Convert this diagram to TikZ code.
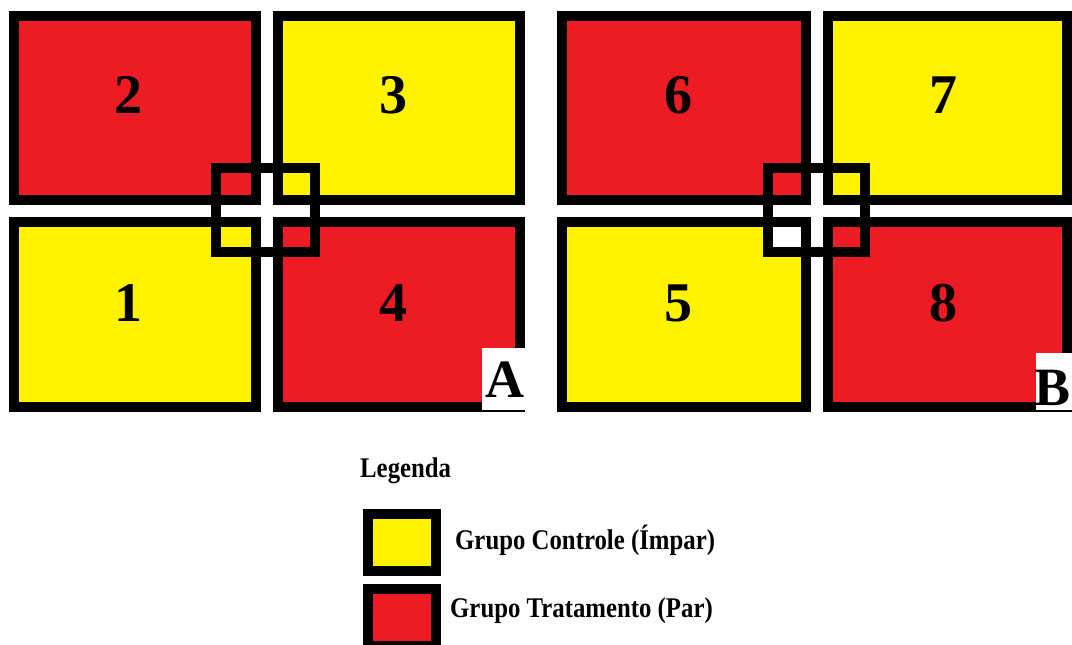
\documentclass[tikz,border=0pt]{standalone}
\usepackage{fontspec}
\setmainfont{Liberation Serif}
\newfontfamily\legfont[FakeStretch=0.87]{Liberation Serif}
\definecolor{pred}{HTML}{ED1C24}
\definecolor{pyel}{HTML}{FFF200}
\tikzset{
  cell/.style={draw=black, line width=10pt, inner sep=0pt, outer sep=0pt},
  num/.style={inner sep=0pt, font=\bfseries\fontsize{56}{56}\selectfont},
  panel/.style={inner sep=0pt, font=\bfseries\fontsize{54}{54}\selectfont},
  frame/.style={draw=black, line width=10pt, inner sep=0pt, outer sep=0pt},
  legtext/.style={inner sep=0pt, anchor=base west, font=\legfont\bfseries\fontsize{28.5}{28.5}\selectfont},
}
\begin{document}
\begin{tikzpicture}[x=1pt,y=-1pt]
\useasboundingbox (0,0) rectangle (1072,645);
\fill[white] (0,0) rectangle (1072,645);
% panel A
\node[cell, fill=pred, minimum width=242pt, minimum height=184pt] (r2) at (135,108) {};
\node[cell, fill=pyel, minimum width=242pt, minimum height=184pt] (r3) at (399,108) {};
\node[cell, fill=pyel, minimum width=242pt, minimum height=185pt] (r1) at (135,314.5) {};
\node[cell, fill=pred, minimum width=242pt, minimum height=185pt] (r4) at (399,314.5) {};
% panel B
\node[cell, fill=pred, minimum width=244pt, minimum height=184pt] (r6) at (684,108) {};
\node[cell, fill=pyel, minimum width=239pt, minimum height=184pt] (r7) at (947.5,108) {};
\node[cell, fill=pyel, minimum width=244pt, minimum height=185pt] (r5) at (684,314.5) {};
\node[cell, fill=pred, minimum width=239pt, minimum height=185pt] (r8) at (947.5,314.5) {};
% numbers
\node[num] (n2) at (128,95) {2};
\node[num] (n3) at (393,95) {3};
\node[num] (n1) at (128,303) {1};
\node[num] (n4) at (393,303) {4};
\node[num] (n6) at (678,95) {6};
\node[num] (n7) at (943,95) {7};
\node[num] (n5) at (678,303) {5};
\node[num] (n8) at (943,303) {8};
% white patch inside B frame
\fill[white] (773,227) rectangle (801,247);
% small frames
\node[frame, minimum width=99pt, minimum height=84pt] (sA) at (265.5,210) {};
\node[frame, minimum width=97pt, minimum height=84pt] (sB) at (816.5,210) {};
% panel labels
\fill[white] (482,348) rectangle (527,410);
\node[panel] (lA) at (504.5,380) {A};
\fill[white] (1036,353) rectangle (1072,410);
\node[panel] (lB) at (1053,388) {B};
% legend
\node[legtext] (leg) at (360,477) {Legenda};
\node[cell, fill=pyel, minimum width=68pt, minimum height=57pt] (k1) at (402,542.5) {};
\node[cell, fill=pred, minimum width=68pt, minimum height=57pt] (k2) at (402,617.5) {};
\node[legtext] (t1) at (455,549) {Grupo Controle (Ímpar)};
\node[legtext] (t2) at (450,617) {Grupo Tratamento (Par)};
\end{tikzpicture}
\end{document}
